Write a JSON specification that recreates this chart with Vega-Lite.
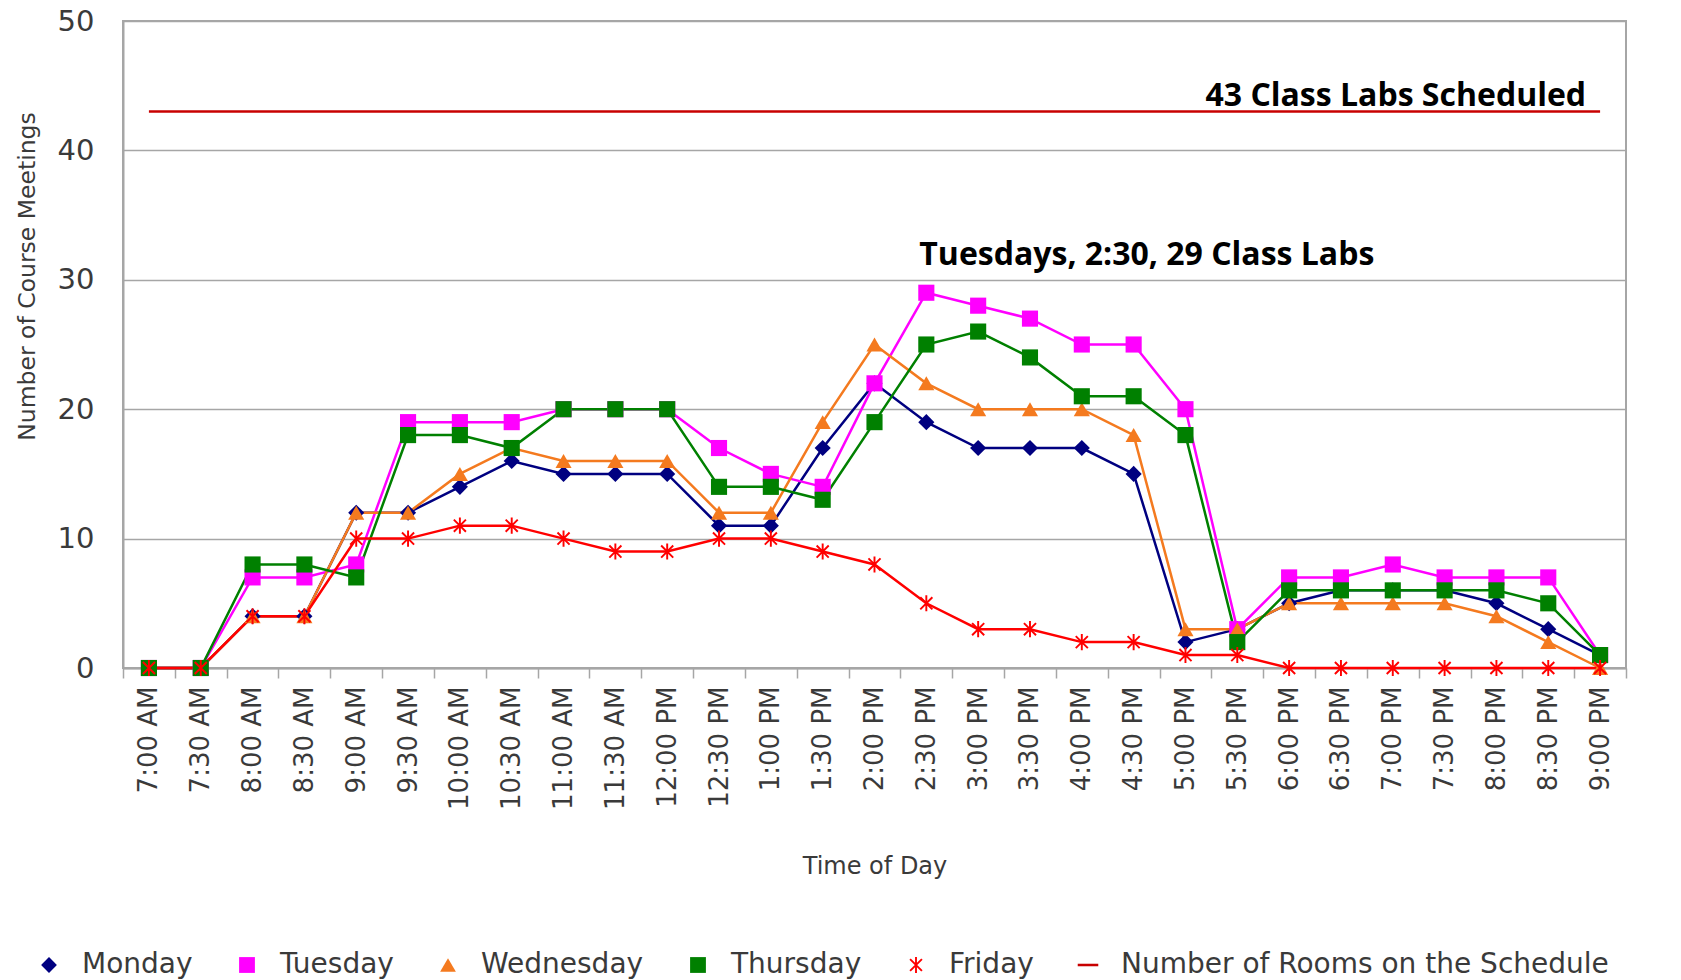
{
  "$schema": "https://vega.github.io/schema/vega-lite/v6.json",
  "autosize": {"type": "none"},
  "padding": {"left": 123, "top": 21, "right": 55, "bottom": 312},
  "width": 1503,
  "height": 647,
  "background": "white",
  "config": {
    "view": {"stroke": "#A6A6A6", "strokeWidth": 2},
    "font": "DejaVu Sans",
    "axis": {"labelFont": "DejaVu Sans", "titleFont": "DejaVu Sans", "labelColor": "#3a3a3a", "titleColor": "#3a3a3a", "titleFontWeight": "normal"},
    "legend": {"labelFont": "DejaVu Sans"}
  },
  "datasets": {
    "meetings": [
      {"t": "7:00 AM", "d": "Monday", "v": 0}, {"t": "7:30 AM", "d": "Monday", "v": 0}, {"t": "8:00 AM", "d": "Monday", "v": 4}, {"t": "8:30 AM", "d": "Monday", "v": 4}, {"t": "9:00 AM", "d": "Monday", "v": 12}, {"t": "9:30 AM", "d": "Monday", "v": 12}, {"t": "10:00 AM", "d": "Monday", "v": 14}, {"t": "10:30 AM", "d": "Monday", "v": 16}, {"t": "11:00 AM", "d": "Monday", "v": 15}, {"t": "11:30 AM", "d": "Monday", "v": 15}, {"t": "12:00 PM", "d": "Monday", "v": 15}, {"t": "12:30 PM", "d": "Monday", "v": 11}, {"t": "1:00 PM", "d": "Monday", "v": 11}, {"t": "1:30 PM", "d": "Monday", "v": 17}, {"t": "2:00 PM", "d": "Monday", "v": 22}, {"t": "2:30 PM", "d": "Monday", "v": 19}, {"t": "3:00 PM", "d": "Monday", "v": 17}, {"t": "3:30 PM", "d": "Monday", "v": 17}, {"t": "4:00 PM", "d": "Monday", "v": 17}, {"t": "4:30 PM", "d": "Monday", "v": 15}, {"t": "5:00 PM", "d": "Monday", "v": 2}, {"t": "5:30 PM", "d": "Monday", "v": 3}, {"t": "6:00 PM", "d": "Monday", "v": 5}, {"t": "6:30 PM", "d": "Monday", "v": 6}, {"t": "7:00 PM", "d": "Monday", "v": 6}, {"t": "7:30 PM", "d": "Monday", "v": 6}, {"t": "8:00 PM", "d": "Monday", "v": 5}, {"t": "8:30 PM", "d": "Monday", "v": 3}, {"t": "9:00 PM", "d": "Monday", "v": 1},
      {"t": "7:00 AM", "d": "Tuesday", "v": 0}, {"t": "7:30 AM", "d": "Tuesday", "v": 0}, {"t": "8:00 AM", "d": "Tuesday", "v": 7}, {"t": "8:30 AM", "d": "Tuesday", "v": 7}, {"t": "9:00 AM", "d": "Tuesday", "v": 8}, {"t": "9:30 AM", "d": "Tuesday", "v": 19}, {"t": "10:00 AM", "d": "Tuesday", "v": 19}, {"t": "10:30 AM", "d": "Tuesday", "v": 19}, {"t": "11:00 AM", "d": "Tuesday", "v": 20}, {"t": "11:30 AM", "d": "Tuesday", "v": 20}, {"t": "12:00 PM", "d": "Tuesday", "v": 20}, {"t": "12:30 PM", "d": "Tuesday", "v": 17}, {"t": "1:00 PM", "d": "Tuesday", "v": 15}, {"t": "1:30 PM", "d": "Tuesday", "v": 14}, {"t": "2:00 PM", "d": "Tuesday", "v": 22}, {"t": "2:30 PM", "d": "Tuesday", "v": 29}, {"t": "3:00 PM", "d": "Tuesday", "v": 28}, {"t": "3:30 PM", "d": "Tuesday", "v": 27}, {"t": "4:00 PM", "d": "Tuesday", "v": 25}, {"t": "4:30 PM", "d": "Tuesday", "v": 25}, {"t": "5:00 PM", "d": "Tuesday", "v": 20}, {"t": "5:30 PM", "d": "Tuesday", "v": 3}, {"t": "6:00 PM", "d": "Tuesday", "v": 7}, {"t": "6:30 PM", "d": "Tuesday", "v": 7}, {"t": "7:00 PM", "d": "Tuesday", "v": 8}, {"t": "7:30 PM", "d": "Tuesday", "v": 7}, {"t": "8:00 PM", "d": "Tuesday", "v": 7}, {"t": "8:30 PM", "d": "Tuesday", "v": 7}, {"t": "9:00 PM", "d": "Tuesday", "v": 1},
      {"t": "7:00 AM", "d": "Wednesday", "v": 0}, {"t": "7:30 AM", "d": "Wednesday", "v": 0}, {"t": "8:00 AM", "d": "Wednesday", "v": 4}, {"t": "8:30 AM", "d": "Wednesday", "v": 4}, {"t": "9:00 AM", "d": "Wednesday", "v": 12}, {"t": "9:30 AM", "d": "Wednesday", "v": 12}, {"t": "10:00 AM", "d": "Wednesday", "v": 15}, {"t": "10:30 AM", "d": "Wednesday", "v": 17}, {"t": "11:00 AM", "d": "Wednesday", "v": 16}, {"t": "11:30 AM", "d": "Wednesday", "v": 16}, {"t": "12:00 PM", "d": "Wednesday", "v": 16}, {"t": "12:30 PM", "d": "Wednesday", "v": 12}, {"t": "1:00 PM", "d": "Wednesday", "v": 12}, {"t": "1:30 PM", "d": "Wednesday", "v": 19}, {"t": "2:00 PM", "d": "Wednesday", "v": 25}, {"t": "2:30 PM", "d": "Wednesday", "v": 22}, {"t": "3:00 PM", "d": "Wednesday", "v": 20}, {"t": "3:30 PM", "d": "Wednesday", "v": 20}, {"t": "4:00 PM", "d": "Wednesday", "v": 20}, {"t": "4:30 PM", "d": "Wednesday", "v": 18}, {"t": "5:00 PM", "d": "Wednesday", "v": 3}, {"t": "5:30 PM", "d": "Wednesday", "v": 3}, {"t": "6:00 PM", "d": "Wednesday", "v": 5}, {"t": "6:30 PM", "d": "Wednesday", "v": 5}, {"t": "7:00 PM", "d": "Wednesday", "v": 5}, {"t": "7:30 PM", "d": "Wednesday", "v": 5}, {"t": "8:00 PM", "d": "Wednesday", "v": 4}, {"t": "8:30 PM", "d": "Wednesday", "v": 2}, {"t": "9:00 PM", "d": "Wednesday", "v": 0},
      {"t": "7:00 AM", "d": "Thursday", "v": 0}, {"t": "7:30 AM", "d": "Thursday", "v": 0}, {"t": "8:00 AM", "d": "Thursday", "v": 8}, {"t": "8:30 AM", "d": "Thursday", "v": 8}, {"t": "9:00 AM", "d": "Thursday", "v": 7}, {"t": "9:30 AM", "d": "Thursday", "v": 18}, {"t": "10:00 AM", "d": "Thursday", "v": 18}, {"t": "10:30 AM", "d": "Thursday", "v": 17}, {"t": "11:00 AM", "d": "Thursday", "v": 20}, {"t": "11:30 AM", "d": "Thursday", "v": 20}, {"t": "12:00 PM", "d": "Thursday", "v": 20}, {"t": "12:30 PM", "d": "Thursday", "v": 14}, {"t": "1:00 PM", "d": "Thursday", "v": 14}, {"t": "1:30 PM", "d": "Thursday", "v": 13}, {"t": "2:00 PM", "d": "Thursday", "v": 19}, {"t": "2:30 PM", "d": "Thursday", "v": 25}, {"t": "3:00 PM", "d": "Thursday", "v": 26}, {"t": "3:30 PM", "d": "Thursday", "v": 24}, {"t": "4:00 PM", "d": "Thursday", "v": 21}, {"t": "4:30 PM", "d": "Thursday", "v": 21}, {"t": "5:00 PM", "d": "Thursday", "v": 18}, {"t": "5:30 PM", "d": "Thursday", "v": 2}, {"t": "6:00 PM", "d": "Thursday", "v": 6}, {"t": "6:30 PM", "d": "Thursday", "v": 6}, {"t": "7:00 PM", "d": "Thursday", "v": 6}, {"t": "7:30 PM", "d": "Thursday", "v": 6}, {"t": "8:00 PM", "d": "Thursday", "v": 6}, {"t": "8:30 PM", "d": "Thursday", "v": 5}, {"t": "9:00 PM", "d": "Thursday", "v": 1},
      {"t": "7:00 AM", "d": "Friday", "v": 0}, {"t": "7:30 AM", "d": "Friday", "v": 0}, {"t": "8:00 AM", "d": "Friday", "v": 4}, {"t": "8:30 AM", "d": "Friday", "v": 4}, {"t": "9:00 AM", "d": "Friday", "v": 10}, {"t": "9:30 AM", "d": "Friday", "v": 10}, {"t": "10:00 AM", "d": "Friday", "v": 11}, {"t": "10:30 AM", "d": "Friday", "v": 11}, {"t": "11:00 AM", "d": "Friday", "v": 10}, {"t": "11:30 AM", "d": "Friday", "v": 9}, {"t": "12:00 PM", "d": "Friday", "v": 9}, {"t": "12:30 PM", "d": "Friday", "v": 10}, {"t": "1:00 PM", "d": "Friday", "v": 10}, {"t": "1:30 PM", "d": "Friday", "v": 9}, {"t": "2:00 PM", "d": "Friday", "v": 8}, {"t": "2:30 PM", "d": "Friday", "v": 5}, {"t": "3:00 PM", "d": "Friday", "v": 3}, {"t": "3:30 PM", "d": "Friday", "v": 3}, {"t": "4:00 PM", "d": "Friday", "v": 2}, {"t": "4:30 PM", "d": "Friday", "v": 2}, {"t": "5:00 PM", "d": "Friday", "v": 1}, {"t": "5:30 PM", "d": "Friday", "v": 1}, {"t": "6:00 PM", "d": "Friday", "v": 0}, {"t": "6:30 PM", "d": "Friday", "v": 0}, {"t": "7:00 PM", "d": "Friday", "v": 0}, {"t": "7:30 PM", "d": "Friday", "v": 0}, {"t": "8:00 PM", "d": "Friday", "v": 0}, {"t": "8:30 PM", "d": "Friday", "v": 0}, {"t": "9:00 PM", "d": "Friday", "v": 0},
      {"t": "7:00 AM", "d": "Number of Rooms on the Schedule", "v": 43}, {"t": "9:00 PM", "d": "Number of Rooms on the Schedule", "v": 43}
    ]
  },
  "layer": [
    {
      "data": {"name": "meetings"},
      "mark": {"type": "line", "strokeWidth": 2.5},
      "encoding": {
        "x": {"field": "t", "type": "nominal", "bandPosition": 0.5,
          "scale": {"type": "band", "paddingInner": 0, "paddingOuter": 0, "domain": ["7:00 AM", "7:30 AM", "8:00 AM", "8:30 AM", "9:00 AM", "9:30 AM", "10:00 AM", "10:30 AM", "11:00 AM", "11:30 AM", "12:00 PM", "12:30 PM", "1:00 PM", "1:30 PM", "2:00 PM", "2:30 PM", "3:00 PM", "3:30 PM", "4:00 PM", "4:30 PM", "5:00 PM", "5:30 PM", "6:00 PM", "6:30 PM", "7:00 PM", "7:30 PM", "8:00 PM", "8:30 PM", "9:00 PM"]},
          "axis": {"title": "Time of Day", "titleFontSize": 24, "titleY": 198, "titleBaseline": "middle", "labelAngle": -90, "labelFontSize": 26, "labelPadding": 8, "tickBand": "extent", "tickSize": 10, "tickColor": "#A6A6A6", "tickWidth": 1.5, "domainColor": "#A6A6A6", "domainWidth": 2, "grid": false}},
        "y": {"field": "v", "type": "quantitative",
          "scale": {"domain": [0, 50], "nice": false},
          "axis": {"title": "Number of Course Meetings", "titleFontSize": 23.5, "titleX": -96, "titleY": 255, "titleAlign": "center", "titleBaseline": "middle", "values": [0, 10, 20, 30, 40, 50], "labelFontSize": 29, "ticks": false, "labelPadding": 29, "gridColor": "#A6A6A6", "gridWidth": 1.5, "domainColor": "#A6A6A6", "domainWidth": 2}},
        "color": {"field": "d", "type": "nominal",
          "scale": {"domain": ["Monday", "Tuesday", "Wednesday", "Thursday", "Friday", "Number of Rooms on the Schedule"], "range": ["#000080", "#FF00FF", "#F47A1F", "#008000", "#FF0000", "#C80000"]},
          "legend": {"orient": "none", "legendX": -88, "legendY": 930, "direction": "horizontal", "title": null, "labelFontSize": 28, "labelLimit": 1000, "labelColor": "#3a3a3a", "symbolSize": 250, "symbolStrokeWidth": 0, "labelOffset": 19, "columnPadding": 40}}
      }
    },
    {
      "data": {"name": "meetings"},
      "transform": [{"filter": "datum.d !== 'Number of Rooms on the Schedule'"}],
      "mark": {"type": "point", "filled": true, "size": 260, "opacity": 1},
      "encoding": {
        "x": {"field": "t", "type": "nominal", "bandPosition": 0.5},
        "y": {"field": "v", "type": "quantitative"},
        "color": {"field": "d", "type": "nominal"},
        "shape": {"field": "d", "type": "nominal", "legend": null,
          "scale": {"domain": ["Monday", "Tuesday", "Wednesday", "Thursday", "Friday", "Number of Rooms on the Schedule"], "range": ["diamond", "square", "triangle-up", "square", "M-0.12,-1L0.12,-1L0.12,1L-0.12,1Z M-0.665,-0.835L0.835,0.665L0.665,0.835L-0.835,-0.665Z M-0.835,0.665L0.665,-0.835L0.835,-0.665L-0.665,0.835Z", "M-1.3,-0.16L1.3,-0.16L1.3,0.16L-1.3,0.16Z"]}}
      }
    },
    {
      "data": {"values": [{"t": "9:00 PM", "v": 43, "label": "43 Class Labs Scheduled"}]},
      "mark": {"type": "text", "align": "right", "baseline": "alphabetic", "dx": -14, "dy": -6, "font": "Open Sans", "fontWeight": "bold", "fontSize": 32, "color": "#000000"},
      "encoding": {
        "x": {"field": "t", "type": "nominal", "bandPosition": 0.5},
        "y": {"field": "v", "type": "quantitative"},
        "text": {"field": "label"}
      }
    },
    {
      "data": {"values": [{"t": "2:30 PM", "v": 29, "label": "Tuesdays, 2:30, 29 Class Labs"}]},
      "mark": {"type": "text", "align": "left", "baseline": "alphabetic", "dx": -7, "dy": -28, "font": "Open Sans", "fontWeight": "bold", "fontSize": 32, "color": "#000000"},
      "encoding": {
        "x": {"field": "t", "type": "nominal", "bandPosition": 0.5},
        "y": {"field": "v", "type": "quantitative"},
        "text": {"field": "label"}
      }
    }
  ]
}
